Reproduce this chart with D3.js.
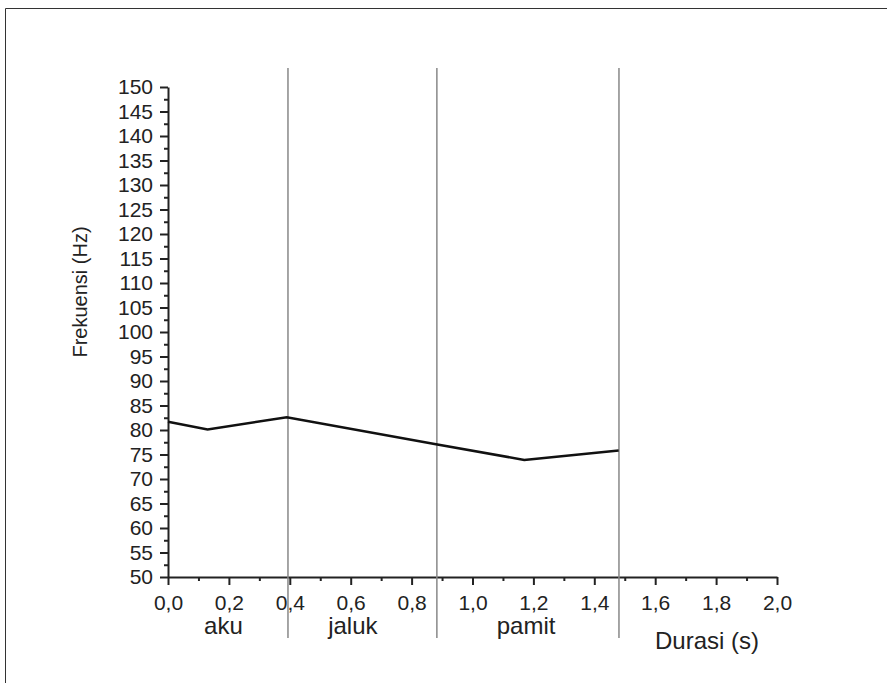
<!DOCTYPE html>
<html>
<head>
<meta charset="utf-8">
<script src="https://cdn.jsdelivr.net/npm/d3@7"></script>
<style>
  body { margin: 0; background: #fff; }
  text { font-family: "Liberation Sans", Arial, sans-serif; fill: #222; }
</style>
</head>
<body>
<svg id="viz"></svg>
<script>
let width = 887;
let height = 683;

// data
let durasi = [0, 0.13, 0.39, 0.88, 1.17, 1.48];
let frekuensi = [81.7, 80.1, 82.6, 77.1, 73.9, 75.8];
let batas = [0.394, 0.883, 1.481];
let kata = ["aku", "jaluk", "pamit"];
let kataPos = [0.182, 0.607, 1.176];
let xTicks = [0, 0.2, 0.4, 0.6, 0.8, 1.0, 1.2, 1.4, 1.6, 1.8, 2.0];
let yTicks = d3.range(50, 151, 5);

let margin = {left: 168, right: 110, top: 87, bottom: 106};

let svg = d3.select("#viz")
    .attr("width", width)
    .attr("height", height);

// outer frame (left and top only visible)
svg.append("path")
    .attr("d", "M5.5," + height + "V8.5H" + width)
    .attr("fill", "none")
    .attr("stroke", "#333")
    .attr("stroke-width", 1);

let x = d3.scaleLinear()
    .domain([0, 2])
    .range([margin.left, width - margin.right]);
let y = d3.scaleLinear()
    .domain([50, 150])
    .range([height - margin.bottom, margin.top]);

let fmt = (d) => d3.format(".1f")(d).replace(".", ",");

// minor ticks
svg.append("g")
    .attr("transform", "translate(0," + y(50) + ")")
    .call(d3.axisBottom(x).tickValues(d3.range(0.1, 2, 0.2)).tickSize(4).tickFormat(""))
    .call(g => g.select(".domain").remove())
    .selectAll("line").attr("stroke", "#222").attr("stroke-width", 2);
svg.append("g")
    .attr("transform", "translate(" + x(0) + ",0)")
    .call(d3.axisLeft(y).tickValues(d3.range(52.5, 150, 5)).tickSize(4).tickFormat(""))
    .call(g => g.select(".domain").remove())
    .selectAll("line").attr("stroke", "#222").attr("stroke-width", 2);

// x axis
let xAxis = svg.append("g")
    .attr("transform", "translate(0," + y(50) + ")")
    .call(d3.axisBottom(x).tickValues(xTicks).tickSize(8).tickSizeOuter(0).tickPadding(10).tickFormat(fmt));
xAxis.select(".domain").attr("stroke", "#222").attr("stroke-width", 2);
xAxis.selectAll(".tick line").attr("stroke", "#222").attr("stroke-width", 2);
xAxis.selectAll("text").style("font-size", "21px").attr("fill", "#222");

// y axis
let yAxis = svg.append("g")
    .attr("transform", "translate(" + x(0) + ",0)")
    .call(d3.axisLeft(y).tickValues(yTicks).tickSize(8).tickSizeOuter(0).tickPadding(7));
yAxis.select(".domain").attr("stroke", "#222").attr("stroke-width", 2);
yAxis.selectAll(".tick line").attr("stroke", "#222").attr("stroke-width", 2);
yAxis.selectAll("text").style("font-size", "21px").attr("fill", "#222");

// word boundaries
svg.selectAll("line.batas")
    .data(batas)
    .enter().append("line")
    .attr("class", "batas")
    .attr("x1", (d) => x(d))
    .attr("x2", (d) => x(d))
    .attr("y1", 68)
    .attr("y2", 638)
    .attr("stroke", "#888")
    .attr("stroke-width", 1.5);

// pitch contour
let line = d3.line()
    .x((d, i) => x(durasi[i]))
    .y((d) => y(d));
svg.append("path")
    .datum(frekuensi)
    .attr("d", line)
    .attr("fill", "none")
    .attr("stroke", "#111")
    .attr("stroke-width", 2.5);

// word labels
svg.selectAll("text.kata")
    .data(kata)
    .enter().append("text")
    .attr("class", "kata")
    .attr("x", (d, i) => x(kataPos[i]))
    .attr("y", 634)
    .attr("text-anchor", "middle")
    .style("font-size", "24px")
    .text((d) => d);

svg.append("text")
    .attr("x", x(1.77))
    .attr("y", 649)
    .attr("text-anchor", "middle")
    .style("font-size", "24px")
    .text("Durasi (s)");

svg.append("text")
    .attr("transform", "translate(87," + 292 + ") rotate(-90)")
    .attr("text-anchor", "middle")
    .style("font-size", "20px")
    .text("Frekuensi (Hz)");
</script>
</body>
</html>
